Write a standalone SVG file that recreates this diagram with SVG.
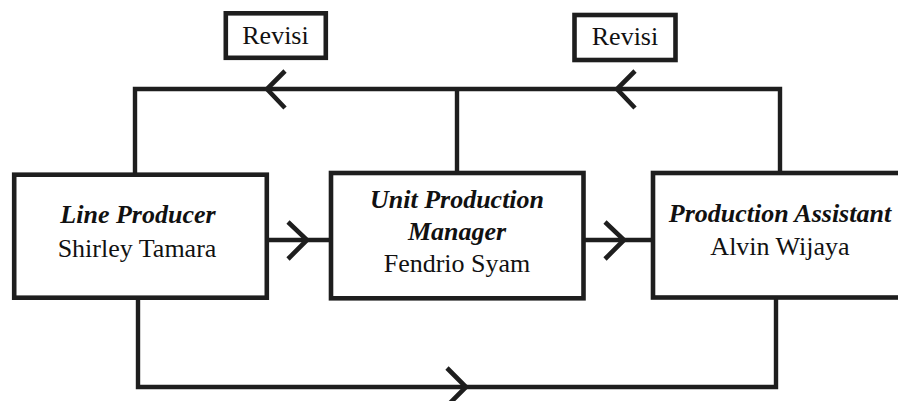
<svg xmlns="http://www.w3.org/2000/svg" width="898" height="401" viewBox="0 0 898 401">
<style>
.box{fill:#fff;stroke:#1e1e1e;stroke-width:4.6}
.ln{fill:none;stroke:#1e1e1e;stroke-width:4.4;stroke-linejoin:miter}
.chev{fill:none;stroke:#1e1e1e;stroke-width:4.6;stroke-linecap:butt}
text{font-family:"Liberation Serif","Times New Roman",serif;fill:#111;text-anchor:middle}
.t{font-size:26px;font-weight:bold;font-style:italic}
.n{font-size:26px}
.r{font-size:26px}
</style>
<rect width="898" height="401" fill="#fff"/>
<g id="connectors">
<polyline class="ln" points="135,175 135,89 780,89 780,173"/>
<line class="ln" x1="457" y1="89" x2="457" y2="173"/>
<polyline class="chev" points="285,71 267,89 285,108"/>
<polyline class="chev" points="635,71 617,89 635,108"/>
<line class="ln" x1="267" y1="240" x2="331" y2="240"/>
<polyline class="chev" points="288,222 307,240 288,259"/>
<line class="ln" x1="583" y1="240" x2="653" y2="240"/>
<polyline class="chev" points="605,222 624,240 605,259"/>
<polyline class="ln" points="138,298 138,387 776,387 776,297"/>
<polyline class="chev" points="447,368 466,387 447,406"/>
</g>
<g id="revisi1">
<rect class="box" x="225.8" y="13.3" width="100" height="44.5"/>
<text class="r" x="275.5" y="44">Revisi</text>
</g>
<g id="revisi2">
<rect class="box" x="574.5" y="15" width="101" height="45"/>
<text class="r" x="625" y="44.5">Revisi</text>
</g>
<g id="line-producer">
<rect class="box" x="14.2" y="174.7" width="252.6" height="123"/>
<text class="t" x="138" y="223">Line Producer</text>
<text class="n" x="137" y="257">Shirley Tamara</text>
</g>
<g id="unit-production-manager">
<rect class="box" x="331" y="173" width="252.5" height="125.3"/>
<text class="t" x="457" y="208">Unit Production</text>
<text class="t" x="457" y="240">Manager</text>
<text class="n" x="457" y="272">Fendrio Syam</text>
</g>
<g id="production-assistant">
<rect class="box" x="653" y="173" width="260" height="124.5"/>
<text class="t" x="780" y="222">Production Assistant</text>
<text class="n" x="780" y="255">Alvin Wijaya</text>
</g>
</svg>
